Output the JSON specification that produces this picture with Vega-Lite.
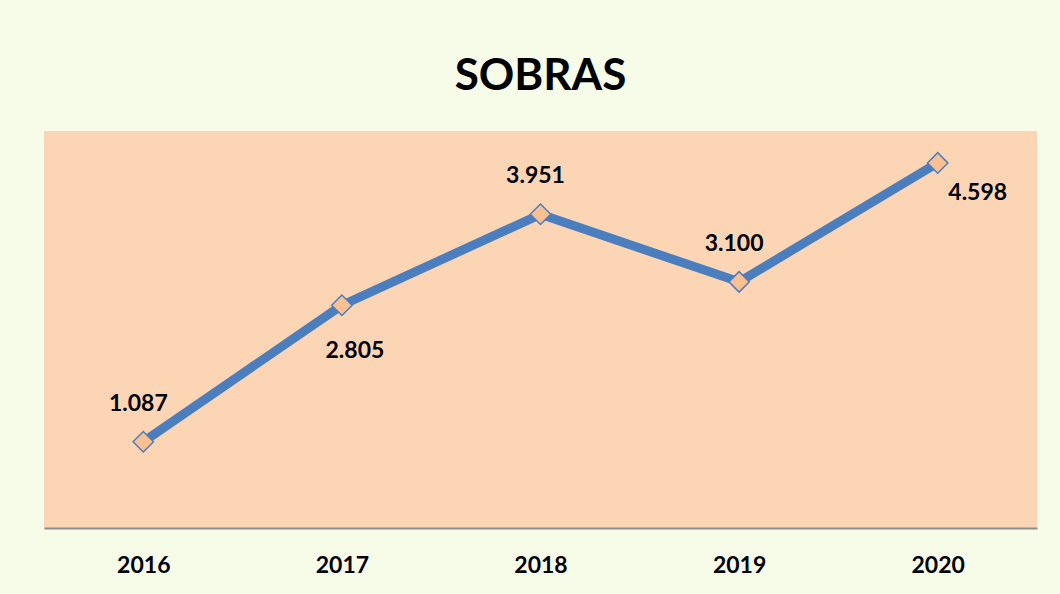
{
  "$schema": "https://vega.github.io/schema/vega-lite/v6.json",
  "width": 993,
  "height": 397,
  "autosize": {"type": "none"},
  "padding": {"left": 44, "top": 131, "right": 23, "bottom": 66},
  "background": "#F7FCE9",
  "config": {
    "view": {"fill": "#FCD5B5", "stroke": null},
    "font": "Lato",
    "locale": {"number": {"decimal": ",", "thousands": ".", "grouping": [3], "currency": ["R$", ""]}}
  },
  "title": {
    "text": "SOBRAS",
    "font": "Lato",
    "fontSize": 44,
    "fontWeight": "bold",
    "color": "#000000",
    "anchor": "middle",
    "baseline": "alphabetic",
    "offset": 43,
    "dy": 46
  },
  "data": {
    "values": [
      {"ano": "2016", "sobras": 1087},
      {"ano": "2017", "sobras": 2805},
      {"ano": "2018", "sobras": 3951},
      {"ano": "2019", "sobras": 3100},
      {"ano": "2020", "sobras": 4598}
    ]
  },
  "encoding": {
    "x": {
      "field": "ano",
      "type": "ordinal",
      "scale": {"type": "point", "padding": 0.5},
      "axis": {
        "title": null,
        "labelAngle": 0,
        "ticks": false,
        "grid": false,
        "domainColor": "#8C8C8C",
        "domainWidth": 2,
        "labelFont": "Lato",
        "labelFontSize": 23,
        "labelFontWeight": "bold",
        "labelColor": "#000000",
        "labelBaseline": "alphabetic",
        "labelPadding": 44
      }
    },
    "y": {
      "field": "sobras",
      "type": "quantitative",
      "scale": {"domain": [0, 5000], "nice": false, "zero": true},
      "axis": null
    }
  },
  "layer": [
    {"mark": {"type": "line", "color": "#4A7EBF", "strokeWidth": 9, "strokeCap": "round", "strokeJoin": "round"}},
    {"mark": {"type": "point", "shape": "diamond", "size": 420, "filled": true, "fill": "#FAC090", "stroke": "#4A7EBF", "strokeWidth": 1.5, "opacity": 1}},
    {
      "transform": [{"filter": "datum.ano == '2016' || datum.ano == '2018' || datum.ano == '2019'"}],
      "mark": {"type": "text", "font": "Lato", "fontSize": 23, "fontWeight": "bold", "color": "#000000", "dx": -5, "dy": -38, "baseline": "middle"},
      "encoding": {"text": {"field": "sobras", "type": "quantitative", "format": ",d"}}
    },
    {
      "transform": [{"filter": "datum.ano == '2017'"}],
      "mark": {"type": "text", "font": "Lato", "fontSize": 23, "fontWeight": "bold", "color": "#000000", "dx": 13, "dy": 46, "baseline": "middle"},
      "encoding": {"text": {"field": "sobras", "type": "quantitative", "format": ",d"}}
    },
    {
      "transform": [{"filter": "datum.ano == '2020'"}],
      "mark": {"type": "text", "font": "Lato", "fontSize": 23, "fontWeight": "bold", "color": "#000000", "dx": 40, "dy": 30, "baseline": "middle"},
      "encoding": {"text": {"field": "sobras", "type": "quantitative", "format": ",d"}}
    }
  ]
}
